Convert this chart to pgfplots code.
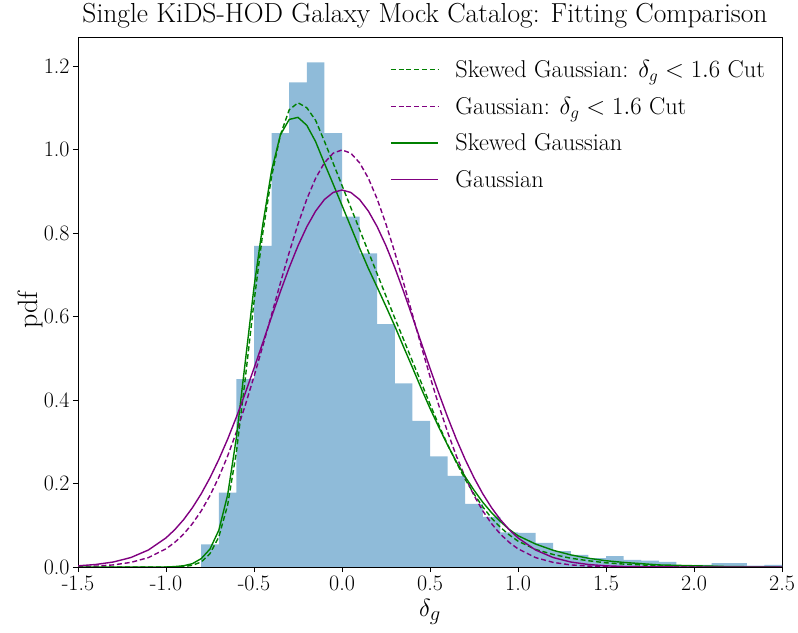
\documentclass[border=0pt]{standalone}
\usepackage{pgfplots}
\pgfplotsset{compat=1.18}
\usepackage{pgfplotstable}
\definecolor{histblue}{RGB}{143,187,217}
\definecolor{mgreen}{RGB}{0,128,0}
\definecolor{mpurple}{RGB}{128,0,128}

\pgfplotstableread{
x y
-0.8 0.054
-0.7 0.178
-0.6 0.450
-0.5 0.769
-0.4 1.039
-0.3 1.161
-0.2 1.209
-0.1 1.039
0.0 0.839
0.1 0.751
0.2 0.582
0.3 0.440
0.4 0.350
0.5 0.265
0.6 0.218
0.7 0.151
0.8 0.120
0.9 0.083
1.0 0.082
1.1 0.058
1.2 0.038
1.3 0.029
1.4 0.021
1.5 0.026
1.6 0.017
1.7 0.015
1.8 0.012
1.9 0.002
2.0 0.005
2.1 0.009
2.2 0.009
2.3 0.003
2.4 0.005
2.5 0.005
}\histdata

\pgfplotstableread{
x y
-1.5 0.0028
-1.4 0.0060
-1.3 0.0119
-1.2 0.0226
-1.1 0.0407
-1.0 0.0697
-0.95 0.0895
-0.9 0.1134
-0.85 0.1419
-0.8 0.1753
-0.75 0.2138
-0.7 0.2575
-0.65 0.3059
-0.6 0.3591
-0.55 0.4161
-0.5 0.4760
-0.45 0.5376
-0.4 0.5994
-0.35 0.6598
-0.3 0.7171
-0.25 0.7694
-0.2 0.8150
-0.15 0.8524
-0.1 0.8802
-0.05 0.8972
0.0 0.9030
0.05 0.8972
0.1 0.8802
0.15 0.8524
0.2 0.8150
0.25 0.7694
0.3 0.7171
0.35 0.6598
0.4 0.5994
0.45 0.5376
0.5 0.4760
0.55 0.4161
0.6 0.3591
0.65 0.3059
0.7 0.2575
0.75 0.2138
0.8 0.1753
0.85 0.1419
0.9 0.1134
0.95 0.0895
1.0 0.0697
1.1 0.0407
1.2 0.0226
1.3 0.0119
1.4 0.0060
1.5 0.0028
1.6 0.0013
1.7 0.0006
1.8 0.0002
2.0 0.0000
2.5 0.0000
}\gauss

\pgfplotstableread{
x y
-1.5 0.0009
-1.4 0.0021
-1.3 0.0050
-1.2 0.0110
-1.1 0.0225
-1.0 0.0435
-0.95 0.0590
-0.9 0.0788
-0.85 0.1037
-0.8 0.1343
-0.75 0.1713
-0.7 0.2150
-0.65 0.2657
-0.6 0.3232
-0.55 0.3870
-0.5 0.4563
-0.45 0.5295
-0.4 0.6050
-0.35 0.6804
-0.3 0.7534
-0.25 0.8212
-0.2 0.8813
-0.15 0.9310
-0.1 0.9682
-0.05 0.9912
0.0 0.9990
0.05 0.9912
0.1 0.9682
0.15 0.9310
0.2 0.8813
0.25 0.8212
0.3 0.7534
0.35 0.6804
0.4 0.6050
0.45 0.5295
0.5 0.4563
0.55 0.3870
0.6 0.3232
0.65 0.2657
0.7 0.2150
0.75 0.1713
0.8 0.1343
0.85 0.1037
0.9 0.0788
0.95 0.0590
1.0 0.0435
1.1 0.0225
1.2 0.0110
1.3 0.0050
1.4 0.0021
1.5 0.0009
1.6 0.0003
1.8 0.0000
2.5 0.0000
}\gausscut

\pgfplotstableread{
x y
-1.5 0.000
-1.0 0.000
-0.95 0.001
-0.9 0.003
-0.85 0.008
-0.8 0.020
-0.75 0.043
-0.7 0.088
-0.65 0.172
-0.6 0.310
-0.55 0.490
-0.5 0.670
-0.45 0.820
-0.4 0.950
-0.35 1.035
-0.3 1.072
-0.25 1.077
-0.2 1.058
-0.15 1.019
-0.1 0.967
-0.05 0.917
0.0 0.866
0.05 0.815
0.1 0.764
0.15 0.715
0.2 0.670
0.25 0.624
0.3 0.577
0.35 0.527
0.4 0.478
0.45 0.428
0.5 0.380
0.55 0.335
0.6 0.292
0.65 0.252
0.7 0.216
0.75 0.184
0.8 0.155
0.85 0.130
0.9 0.109
0.95 0.090
1.0 0.075
1.1 0.055
1.2 0.040
1.3 0.029
1.4 0.021
1.5 0.015
1.6 0.011
1.7 0.008
1.8 0.005
1.9 0.004
2.0 0.003
2.2 0.001
2.5 0.000
}\skew

\pgfplotstableread{
x y
-1.5 0.000
-0.95 0.000
-0.9 0.001
-0.85 0.004
-0.8 0.012
-0.75 0.032
-0.7 0.072
-0.65 0.148
-0.6 0.275
-0.55 0.450
-0.5 0.635
-0.45 0.800
-0.4 0.935
-0.35 1.035
-0.3 1.095
-0.25 1.112
-0.2 1.100
-0.15 1.070
-0.1 1.020
-0.05 0.967
0.0 0.914
0.05 0.861
0.1 0.808
0.15 0.755
0.2 0.702
0.25 0.649
0.3 0.596
0.35 0.545
0.4 0.493
0.45 0.442
0.5 0.390
0.55 0.340
0.6 0.293
0.65 0.250
0.7 0.210
0.75 0.175
0.8 0.144
0.85 0.117
0.9 0.095
0.95 0.077
1.0 0.062
1.1 0.042
1.2 0.030
1.3 0.021
1.4 0.015
1.5 0.010
1.6 0.007
1.7 0.005
1.8 0.003
2.0 0.001
2.5 0.000
}\skewcut

\begin{document}
\begin{tikzpicture}
\path[use as bounding box] (0,0) rectangle (798bp,633bp);
\begin{axis}[
  at={(78bp,66bp)}, anchor=south west,
  width=704bp, height=530bp, scale only axis,
  xmin=-1.5, xmax=2.5, ymin=0, ymax=1.2695,
  xtick={-1.5,-1.0,-0.5,0.0,0.5,1.0,1.5,2.0,2.5},
  xticklabels={-1.5,-1.0,-0.5,0.0,0.5,1.0,1.5,2.0,2.5},
  ytick={0,0.2,0.4,0.6,0.8,1.0,1.2},
  yticklabels={0.0,0.2,0.4,0.6,0.8,1.0,1.2},
  tick align=outside, xtick pos=bottom, ytick pos=left,
  major tick length=5bp,
  tick style={black, line width=0.8bp},
  axis line style={line width=0.8bp},
  ticklabel style={font=\fontsize{22bp}{26bp}\selectfont},
  xlabel={$\delta_g$}, ylabel={pdf},
  label style={font=\fontsize{28bp}{33bp}\selectfont},
  xlabel style={at={(axis description cs:0.5,-0.0943)}, anchor=base},
  ylabel style={at={(axis description cs:-0.0582,0.485)}, anchor=base, rotate=0},
  title={Single KiDS-HOD Galaxy Mock Catalog: Fitting Comparison},
  title style={font=\fontsize{27.5bp}{33bp}\selectfont, inner sep=0pt, at={(axis description cs:0.5,1)}, anchor=base, yshift=9bp, xshift=-5bp},
  legend style={at={(axis description cs:0.443,0.960)}, anchor=north west, draw=none, fill=none,
    inner sep=0pt, font=\fontsize{24.3bp}{29bp}\selectfont, row sep=14bp, column sep=15bp},
  legend cell align=left,
  legend image code/.code={\draw[#1] (0bp,0bp) -- (47bp,0bp);},
]
\addplot[ybar interval, fill=histblue, draw=none, forget plot] table {\histdata};
\addplot[draw=mgreen, line width=1.4bp, dash pattern=on 5bp off 2.8bp] table {\skewcut};
\addlegendentry{Skewed Gaussian: $\delta_g < 1.6$ Cut}
\addplot[draw=mpurple, line width=1.4bp, dash pattern=on 5bp off 2.8bp] table {\gausscut};
\addlegendentry{Gaussian: $\delta_g < 1.6$ Cut}
\addplot[draw=mgreen, line width=1.4bp] table {\skew};
\addlegendentry{Skewed Gaussian}
\addplot[draw=mpurple, line width=1.4bp] table {\gauss};
\addlegendentry{Gaussian}
\end{axis}
\end{tikzpicture}
\end{document}
